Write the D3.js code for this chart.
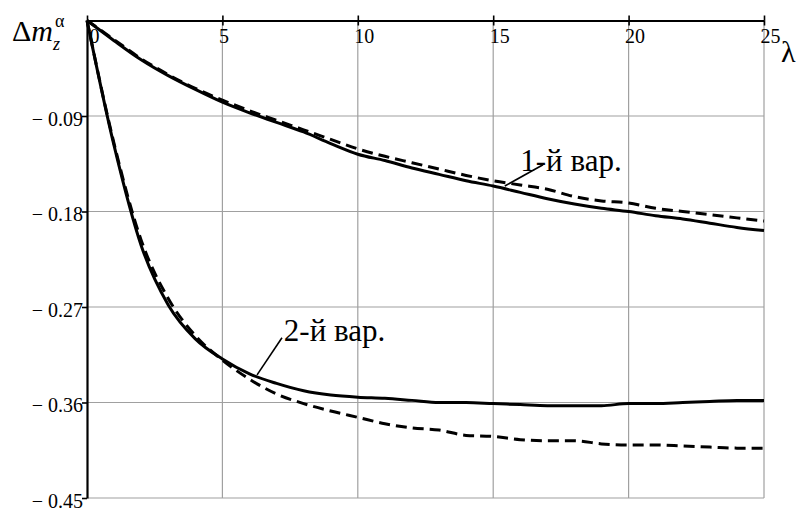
<!DOCTYPE html>
<html>
<head>
<meta charset="utf-8">
<script src="https://cdn.jsdelivr.net/npm/d3@7"></script>
<style>
body{margin:0;background:#fff;}
svg{display:block;font-family:"Liberation Serif","Times New Roman",serif;}
</style>
</head>
<body>
<div id="chart"></div>
<script>
// lambda values and the four curves
const lambda = [0,1,2,3,4,5,6,7,8,9,10,11,12,13,14,15,16,17,18,19,20,21,22,23,24,25];
const var1Solid = [0,-0.019,-0.037,-0.052,-0.065,-0.077,-0.087,-0.096,-0.105,-0.116,-0.126,-0.132,-0.139,-0.145,-0.151,-0.156,-0.162,-0.168,-0.173,-0.177,-0.180,-0.184,-0.187,-0.191,-0.195,-0.198];
const var1Dash  = [0,-0.018,-0.036,-0.051,-0.064,-0.075,-0.085,-0.094,-0.103,-0.112,-0.121,-0.128,-0.134,-0.140,-0.146,-0.151,-0.155,-0.159,-0.166,-0.170,-0.172,-0.177,-0.180,-0.183,-0.186,-0.189];
const var2Solid = [0,-0.118,-0.212,-0.268,-0.300,-0.319,-0.333,-0.342,-0.349,-0.353,-0.355,-0.356,-0.358,-0.360,-0.360,-0.361,-0.362,-0.363,-0.363,-0.363,-0.361,-0.361,-0.360,-0.359,-0.358,-0.358];
const var2Dash  = [0,-0.116,-0.207,-0.262,-0.297,-0.320,-0.338,-0.352,-0.361,-0.368,-0.374,-0.380,-0.384,-0.386,-0.391,-0.392,-0.395,-0.396,-0.396,-0.399,-0.400,-0.400,-0.401,-0.402,-0.403,-0.403];

const xTicks = [0,5,10,15,20,25];
const yTicks = [-0.09,-0.18,-0.27,-0.36,-0.45];

// labels: [text, curve point x, y, leader end x, y, text x, text y]
const notes = [
    ['1-й вар.', 15.43, -0.156, 16.84, -0.136, 16.0, -0.1417],
    ['2-й вар.', 6.28, -0.334, 7.2, -0.299, 7.27, -0.3018]
];

const width = 801, height = 511;
const serif = 'Liberation Serif, Times New Roman, serif';

const svg = d3.select('#chart').append('svg')
    .attr('width', width).attr('height', height);

const x = d3.scaleLinear([0, 25], [87, 764]);
const y = d3.scaleLinear([-0.45, 0], [498, 20.5]);

// grid
svg.append('g').selectAll('line')
    .data(xTicks.slice(1)).join('line')
    .attr('x1', d=>x(d)).attr('x2', d=>x(d))
    .attr('y1', y(0)).attr('y2', y(-0.45))
    .attr('stroke', '#a0a0a0').attr('stroke-width', 1.2);
svg.append('g').selectAll('line')
    .data(yTicks).join('line')
    .attr('x1', x(0)).attr('x2', x(25))
    .attr('y1', d=>y(d)).attr('y2', d=>y(d))
    .attr('stroke', '#a0a0a0').attr('stroke-width', 1.2);

// axes
const axisX = svg.append('g')
    .attr('transform', `translate(0,${y(0)})`)
    .call(d3.axisTop(x).tickValues(xTicks).tickSize(5).tickSizeOuter(0).tickFormat(d3.format('d')));
axisX.selectAll('.tick').append('line').attr('y2', 5).attr('stroke', '#000');
axisX.selectAll('text')
    .attr('y', 22).attr('dy', null)
    .attr('x', d=> d===0 ? 2 : -4)
    .attr('text-anchor', 'start');

const axisY = svg.append('g')
    .attr('transform', `translate(${x(0)},0)`)
    .call(d3.axisLeft(y).tickValues(yTicks).tickSize(5).tickSizeOuter(0)
        .tickFormat(d=>'\u2212 ' + Math.abs(d).toFixed(2)));
axisY.selectAll('text')
    .attr('x', -4).attr('dy', '0.45em')
    .attr('text-anchor', 'end');

[axisX, axisY].forEach(a=>{
    a.attr('font-family', serif).attr('font-size', 20);
    a.selectAll('text')
        .attr('font-family', serif).attr('font-size', 20)
        .attr('fill', '#000');
    a.select('.domain').attr('stroke', '#000').attr('stroke-width', 2.2);
    a.selectAll('.tick line').attr('stroke-width', 1.6);
});

// curves
const line = d3.line()
    .x(d=>x(d[0])).y(d=>y(d[1]))
    .curve(d3.curveMonotoneX);

const curves = [
    {values: var1Dash, dash: '11,6'},
    {values: var2Dash, dash: '11,6'},
    {values: var1Solid, dash: null},
    {values: var2Solid, dash: null}
];

svg.append('g').selectAll('path')
    .data(curves).join('path')
    .attr('d', c=>line(lambda.map((l,i)=>[l, c.values[i]])))
    .attr('fill', 'none')
    .attr('stroke', '#000')
    .attr('stroke-width', 3)
    .attr('stroke-dasharray', c=>c.dash);

// leader lines and labels
const note = svg.append('g').selectAll('g')
    .data(notes).join('g');
note.append('line')
    .attr('x1', d=>x(d[1])).attr('y1', d=>y(d[2]))
    .attr('x2', d=>x(d[3])).attr('y2', d=>y(d[4]))
    .attr('stroke', '#000').attr('stroke-width', 1.6);
note.append('text')
    .attr('x', d=>x(d[5])).attr('y', d=>y(d[6]))
    .attr('font-family', serif).attr('font-size', 31)
    .text(d=>d[0]);

// axis titles
const title = svg.append('text').attr('x', 12).attr('y', 41)
    .attr('font-family', serif).attr('font-size', 30);
title.append('tspan').text('\u0394');
title.append('tspan').attr('font-style', 'italic').text('m');
svg.append('text').attr('x', 55).attr('y', 27)
    .attr('font-family', serif).attr('font-size', 18).text('\u03b1');
svg.append('text').attr('x', 53).attr('y', 50)
    .attr('font-family', serif).attr('font-size', 18)
    .attr('font-style', 'italic').text('z');

svg.append('text').attr('x', 781).attr('y', 62)
    .attr('font-family', serif).attr('font-size', 30).text('\u03bb');
</script>
</body>
</html>
